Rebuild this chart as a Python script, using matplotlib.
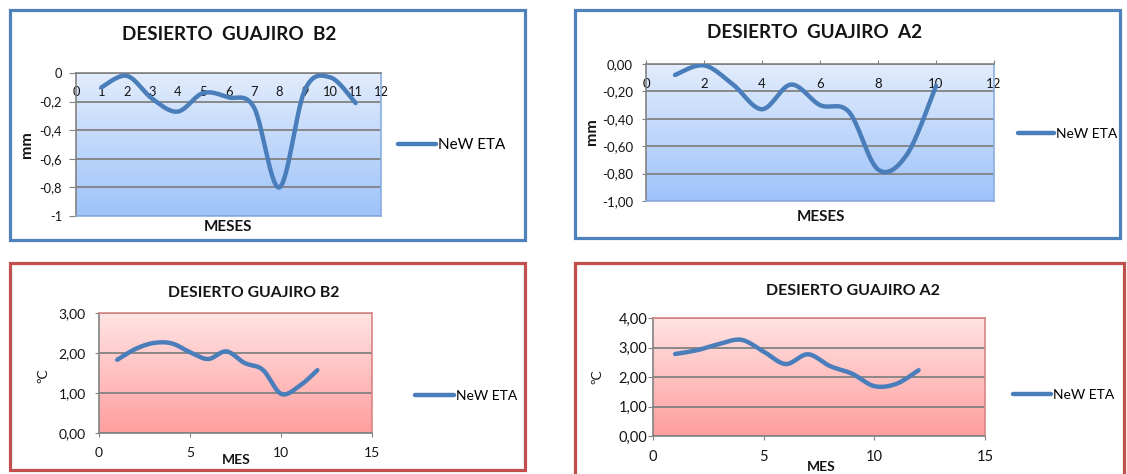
import numpy as np
import matplotlib
matplotlib.use("Agg")
import matplotlib.pyplot as plt
import matplotlib.colors as mcolors
from matplotlib.patches import Rectangle

plt.rcParams['font.family'] = ['Lato', 'DejaVu Sans']

W, H, DPI = 1127, 474, 100

# ---- data ----
MESES_PREC_B2 = [1, 2, 3, 4, 5, 6, 7, 8, 9, 10, 11]
PREC_B2 = [-0.10, -0.02, -0.18, -0.27, -0.14, -0.17, -0.24, -0.80, -0.12, -0.03, -0.21]

MESES_PREC_A2 = [1, 2, 3, 4, 5, 6, 7, 8, 9, 10]
PREC_A2 = [-0.08, -0.01, -0.15, -0.33, -0.15, -0.30, -0.35, -0.77, -0.66, -0.16]

MESES_TEMP_B2 = [1, 2, 3, 4, 5, 6, 7, 8, 9, 10, 11, 12]
TEMP_B2 = [1.83, 2.10, 2.25, 2.24, 2.02, 1.85, 2.04, 1.75, 1.58, 0.98, 1.17, 1.57]

MESES_TEMP_A2 = [1, 2, 3, 4, 5, 6, 7, 8, 9, 10, 11, 12]
TEMP_A2 = [2.78, 2.91, 3.12, 3.26, 2.86, 2.44, 2.77, 2.37, 2.11, 1.69, 1.77, 2.23]

PREC_YTICKS = [0, -0.2, -0.4, -0.6, -0.8, -1]
PREC_YLABELS_B2 = ['0', '-0,2', '-0,4', '-0,6', '-0,8', '-1']
PREC_YLABELS_A2 = ['0,00', '-0,20', '-0,40', '-0,60', '-0,80', '-1,00']
PREC_XTICKS_B2 = list(range(0, 13))
PREC_XTICKS_A2 = list(range(0, 13, 2))

TEMP_YTICKS_B2 = [0, 1, 2, 3]
TEMP_YLABELS_B2 = ['0,00', '1,00', '2,00', '3,00']
TEMP_YTICKS_A2 = [0, 1, 2, 3, 4]
TEMP_YLABELS_A2 = ['0,00', '1,00', '2,00', '3,00', '4,00']
TEMP_XTICKS = [0, 5, 10, 15]

SERIE = 'NeW ETA'
LINE_COLOR = '#4a7ebb'
BLUE_BOX = '#4f81bd'
RED_BOX = '#c0504d'
GRID = '#828282'
TXT = '#141414'


def smooth(x, y, steps=30):
    """Excel-like smoothed line (Catmull-Rom style Bezier through the points)"""
    p = np.column_stack([x, y]).astype(float)
    p = np.vstack([p[0], p, p[-1]])
    out = []
    t = np.linspace(0, 1, steps)[:, None]
    for i in range(1, len(p) - 2):
        b0 = p[i]
        b3 = p[i + 1]
        b1 = b0 + (p[i + 1] - p[i - 1]) / 6
        b2 = b3 - (p[i + 2] - p[i]) / 6
        seg = ((1 - t) ** 3) * b0 + 3 * ((1 - t) ** 2) * t * b1 \
            + 3 * (1 - t) * t ** 2 * b2 + t ** 3 * b3
        out.append(seg if i == 1 else seg[1:])
    out = np.vstack(out)
    return out[:, 0], out[:, 1]


def px_axes(fig, left, top, right, bottom):
    return fig.add_axes([left / W, 1 - bottom / H, (right - left) / W, (bottom - top) / H])


def box(fig, x0, y0, x1, y1, color):
    fig.add_artist(Rectangle((x0 / W, 1 - y1 / H), (x1 - x0) / W, (y1 - y0) / H,
                             transform=fig.transFigure, fill=False, ec=color, lw=2.3))


def gradient(ax, top, bottom):
    c0 = np.array(mcolors.to_rgb(top))
    c1 = np.array(mcolors.to_rgb(bottom))
    t = np.linspace(0, 1, 256)[:, None, None]
    img = c0 * (1 - t) + c1 * t
    ax.imshow(img, extent=(0, 1, 0, 1), transform=ax.transAxes, aspect='auto',
              zorder=0, interpolation='bilinear')


def ftext(fig, x, y, s, **kw):
    fig.text(x / W, 1 - y / H, s, ha='center', va='center', color=TXT, **kw)


def legend(ax, fig, x, y, size, hlen):
    ax.legend(loc='center left', bbox_to_anchor=(x / W, 1 - y / H),
              bbox_transform=fig.transFigure, frameon=False, fontsize=size,
              handlelength=hlen, handletextpad=0.15, borderpad=0, borderaxespad=0)


def style_panel(ax, edge, top_axis):
    ax.set_axisbelow(True)
    ax.yaxis.grid(True, color=GRID, lw=1.3)
    ax.xaxis.grid(False)
    ax.spines['left'].set_color(GRID)
    if top_axis:
        ax.spines['top'].set_color(GRID)
        ax.spines['bottom'].set_color(edge)
    else:
        ax.spines['bottom'].set_color(GRID)
        ax.spines['top'].set_color(edge)
    ax.spines['right'].set_color(edge)
    for s in ax.spines.values():
        s.set_linewidth(1.2)


def precip_panel(fig, rect, meses, vals, xticks, ylabels, tick_size, xpad, xlen, ylen, ypad):
    ax = px_axes(fig, *rect)
    gradient(ax, '#e2ecfc', '#9ec3fa')
    xs, ys = smooth(meses, vals)
    ax.plot(xs, ys, color=LINE_COLOR, lw=3.2, solid_capstyle='round', label=SERIE, zorder=3)
    ax.set_xlim(0, 12)
    ax.set_ylim(-1, 0)
    ax.set_xticks(xticks)
    ax.set_xticklabels([str(v) for v in xticks])
    ax.set_yticks(PREC_YTICKS)
    ax.set_yticklabels(ylabels)
    ax.tick_params(axis='x', top=True, bottom=False, labeltop=True, labelbottom=False,
                   direction='out', length=xlen, pad=xpad, labelsize=tick_size,
                   colors=GRID, labelcolor=TXT)
    ax.tick_params(axis='y', direction='out', length=ylen, pad=ypad, labelsize=tick_size,
                   colors=GRID, labelcolor=TXT)
    style_panel(ax, '#8aaee0', True)
    return ax


def temp_panel(fig, rect, meses, vals, yticks, ylabels, top, tick_size, xpad, ylen, ypad):
    ax = px_axes(fig, *rect)
    gradient(ax, '#ffe4e4', '#ff9e9e')
    xs, ys = smooth(meses, vals)
    ax.plot(xs, ys, color=LINE_COLOR, lw=3.2, solid_capstyle='round', label=SERIE, zorder=3)
    ax.set_xlim(0, 15)
    ax.set_ylim(0, top)
    ax.set_xticks(TEMP_XTICKS)
    ax.set_xticklabels([str(v) for v in TEMP_XTICKS])
    ax.set_yticks(yticks)
    ax.set_yticklabels(ylabels)
    ax.tick_params(axis='x', direction='out', length=3, pad=xpad, labelsize=tick_size,
                   colors=GRID, labelcolor=TXT)
    ax.tick_params(axis='y', direction='out', length=ylen, pad=ypad, labelsize=tick_size,
                   colors=GRID, labelcolor=TXT)
    style_panel(ax, '#d98585', False)
    return ax


def main():
    fig = plt.figure(figsize=(W / DPI, H / DPI), dpi=DPI)
    fig.patch.set_facecolor('white')

    box(fig, 10, 10, 525, 240, BLUE_BOX)
    box(fig, 575, 10, 1120, 238, BLUE_BOX)
    box(fig, 10, 263, 525, 470, RED_BOX)
    box(fig, 575, 263, 1124, 480, RED_BOX)

    # precipitation B2
    ax1 = precip_panel(fig, (76, 73, 381, 216), MESES_PREC_B2, PREC_B2, PREC_XTICKS_B2,
                       PREC_YLABELS_B2, 9.3, -18.3, 0, 5, 5)
    ftext(fig, 229, 34, 'DESIERTO  GUAJIRO  B2', fontsize=13.6, fontweight='bold')
    ftext(fig, 27, 145, 'mm', fontsize=11.5, fontweight='bold', rotation=90)
    ftext(fig, 228, 227, 'MESES', fontsize=11, fontweight='bold')
    legend(ax1, fig, 398, 145, 11, 2.5)

    # precipitation A2
    ax2 = precip_panel(fig, (646, 64, 994, 201), MESES_PREC_A2, PREC_A2, PREC_XTICKS_A2,
                       PREC_YLABELS_A2, 9.5, -21.6, 3, 3, 6.3)
    ftext(fig, 815, 33, 'DESIERTO  GUAJIRO  A2', fontsize=13.6, fontweight='bold')
    ftext(fig, 592, 132, 'mm', fontsize=11.5, fontweight='bold', rotation=90)
    ftext(fig, 821, 217, 'MESES', fontsize=11, fontweight='bold')
    legend(ax2, fig, 1018, 134, 10, 2.6)

    # temperature B2
    ax3 = temp_panel(fig, (99, 313, 372, 433), MESES_TEMP_B2, TEMP_B2, TEMP_YTICKS_B2,
                     TEMP_YLABELS_B2, 3, 10, 7, 3, 6.5)
    ftext(fig, 254, 293, 'DESIERTO GUAJIRO B2', fontsize=11.3, fontweight='bold')
    ftext(fig, 43, 376, 'ºC', fontsize=10, rotation=90)
    ftext(fig, 236, 460, 'MES', fontsize=10, fontweight='bold')
    legend(ax3, fig, 415, 396, 10, 2.8)

    # temperature A2
    ax4 = temp_panel(fig, (653, 318, 985, 436), MESES_TEMP_A2, TEMP_A2, TEMP_YTICKS_A2,
                     TEMP_YLABELS_A2, 4, 10.5, 7, 3.6, 0.5)
    ftext(fig, 853, 291, 'DESIERTO GUAJIRO A2', fontsize=11.5, fontweight='bold')
    ftext(fig, 597, 377, 'ºC', fontsize=10, rotation=90)
    ftext(fig, 821, 467, 'MES', fontsize=10, fontweight='bold')
    legend(ax4, fig, 1013, 395, 10, 2.7)

    fig.savefig('out.png', dpi=DPI)


if __name__ == "__main__":
    main()
